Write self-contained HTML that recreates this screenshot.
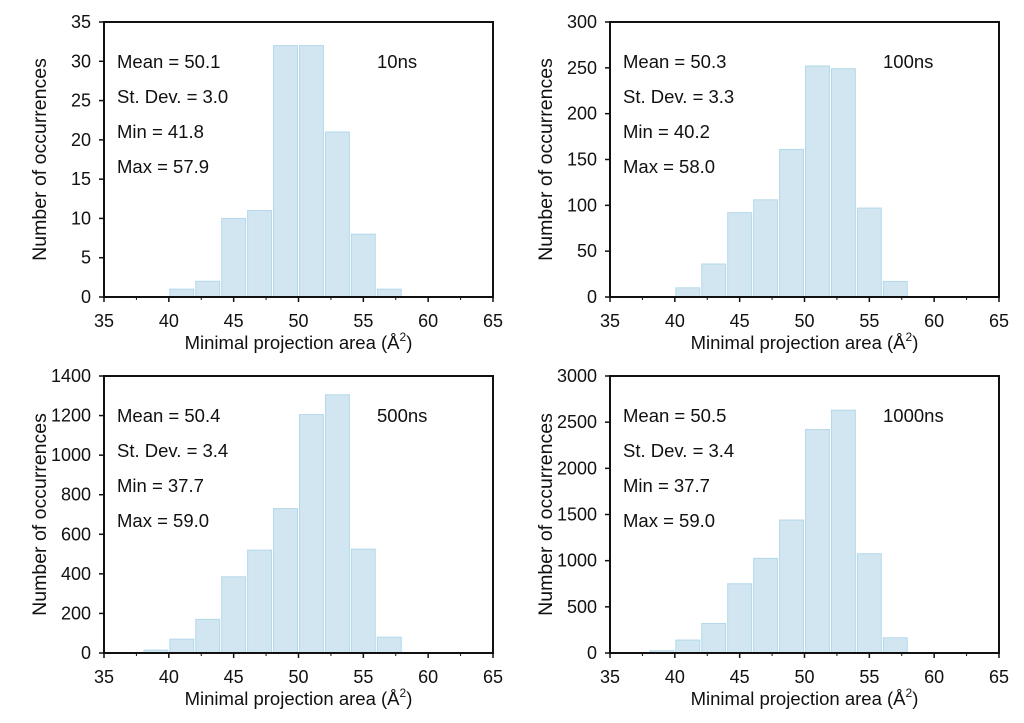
<!DOCTYPE html>
<html><head><meta charset="utf-8"><style>
body{margin:0;background:#fff}
svg text{font-family:"Liberation Sans",Arial,sans-serif;fill:#111}
</style></head><body>
<svg id="chart" width="1024" height="718"></svg>
<script>
const binStarts=[38,40,42,44,46,48,50,52,54,56];
const counts10=[0,1,2,10,11,32,32,21,8,1];
const counts100=[0,10,36,92,106,161,252,249,97,17];
const counts500=[15,70,170,385,520,730,1205,1305,525,80];
const counts1000=[25,140,320,750,1025,1440,2420,2630,1075,165];
const xTicks=[35,40,45,50,55,60,65];
const yTicks10=[0,5,10,15,20,25,30,35];
const yTicks100=[0,50,100,150,200,250,300];
const yTicks500=[0,200,400,600,800,1000,1200,1400];
const yTicks1000=[0,500,1000,1500,2000,2500,3000];
const labels=["10ns","100ns","500ns","1000ns"];
const stats=[["Mean = 50.1","St. Dev. = 3.0","Min = 41.8","Max = 57.9"],
["Mean = 50.3","St. Dev. = 3.3","Min = 40.2","Max = 58.0"],
["Mean = 50.4","St. Dev. = 3.4","Min = 37.7","Max = 59.0"],
["Mean = 50.5","St. Dev. = 3.4","Min = 37.7","Max = 59.0"]];
const NS="http://www.w3.org/2000/svg";
const svg=document.getElementById('chart');
function mk(tag,attrs,parent,text){const e=document.createElementNS(NS,tag);for(const k in attrs)e.setAttribute(k,attrs[k]);if(text!==undefined)e.textContent=text;parent.appendChild(e);return e;}
const panels=[
{L:104,R:493,T:22,B:297,counts:counts10,yt:yTicks10},
{L:610,R:999,T:22,B:297,counts:counts100,yt:yTicks100},
{L:104,R:493,T:376,B:653,counts:counts500,yt:yTicks500},
{L:610,R:999,T:376,B:653,counts:counts1000,yt:yTicks1000}];
panels.forEach((p,i)=>{
 const g=mk('g',{},svg);
 
 
 const ymax=p.yt[p.yt.length-1];
 const x=v=>p.L+(v-35)/30*(p.R-p.L);
 const y=v=>p.B-v/ymax*(p.B-p.T);
 binStarts.forEach((b,j)=>{
  const c=p.counts[j]; if(c<=0)return;
  const r=mk('rect',{x:x(b)+1,y:y(c),width:x(b+2)-x(b)-2,height:p.B-y(c),fill:'#d2e6f1',stroke:'#b3d8ea','stroke-width':1},g);
  
  
 });
 const f=mk('rect',{x:p.L,y:p.T,width:p.R-p.L,height:p.B-p.T,fill:'none',stroke:'#111','stroke-width':2},g);
 
 
 xTicks.forEach(t=>{
  mk('line',{x1:x(t),x2:x(t),y1:p.B,y2:p.B+5,stroke:'#111','stroke-width':1.5},g);
  if(t<65)mk('line',{x1:x(t+2.5),x2:x(t+2.5),y1:p.B,y2:p.B+3,stroke:'#111','stroke-width':1},g);
  const tl=mk('text',{x:x(t),y:p.B+30,'font-size':18,'text-anchor':'middle'},g,t);
  
  
 });
 p.yt.forEach(t=>{
  mk('line',{x1:p.L-5,x2:p.L,y1:y(t),y2:y(t),stroke:'#111','stroke-width':1.5},g);
  const tl=mk('text',{x:p.L-13,y:y(t)+6,'font-size':18,'text-anchor':'end'},g,t);
  
  
 });
 const xt=mk('text',{x:(p.L+p.R)/2,y:p.B+52,'font-size':18.5,'text-anchor':'middle'},g,'Minimal projection area (Å');
 mk('tspan',{dy:-8,'font-size':12},xt,'2');
 mk('tspan',{dy:8},xt,')');
 
 
 const cy=(p.T+p.B)/2, cx=p.L-58;
 const yt=mk('text',{x:cx,y:cy,'font-size':19.5,'text-anchor':'middle',transform:`rotate(-90 ${cx} ${cy})`},g,'Number of occurrences');
 
 
 stats[i].forEach((s,k)=>{
  const st=mk('text',{x:p.L+13,y:p.T+46+k*35,'font-size':18.5},g,s);
  
  
 });
 const lb=mk('text',{x:p.L+273,y:p.T+46,'font-size':18.5},g,labels[i]);
 
 
});
</script>
</body></html>
